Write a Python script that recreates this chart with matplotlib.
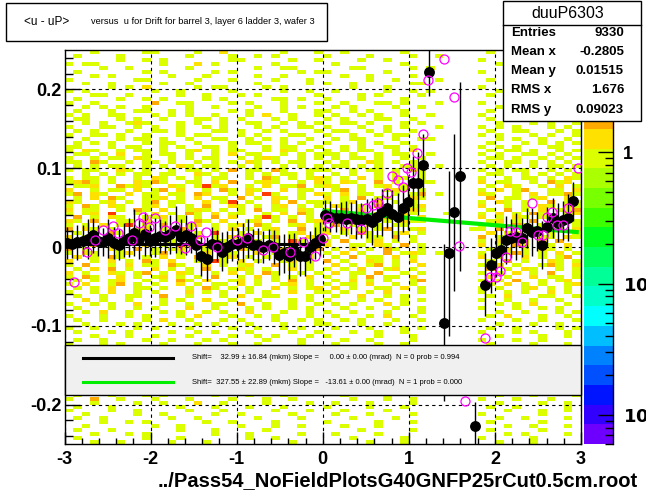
import numpy as np
import matplotlib
matplotlib.use('Agg')
import matplotlib.pyplot as plt
from matplotlib.colors import ListedColormap, BoundaryNorm
from matplotlib.patches import Rectangle
from matplotlib.lines import Line2D
from matplotlib.ticker import MultipleLocator, FixedLocator, LogLocator, NullFormatter

plt.rcParams['font.family'] = ['Liberation Sans', 'DejaVu Sans']
plt.rcParams['axes.unicode_minus'] = False

W, H = 646, 494

# ---- 2D histogram, rows from top (y=0.25) to bottom (y=-0.25)
# each row: x in [-3,0] (30 bins), [0,1.2] (12), [1.2,1.8] (6), [1.8,3] (12)
# '.' empty, 1 yellow-green, 2 yellow, 3 orange, 4 red
hist_rows = [
    ("...1.....11....1..2......1...1", "..1......1..", "......", ".1....1.1..."),
    (".1....1.......1....1..1.1.....", "1....1....1.", ".1....", "...1.....1.."),
    ("......1..1.1.......11.....1..1", "....1..1....", "......", "1.....1....1"),
    ("1.11.......1...2.1......1.....", ".1.......1..", "......", "..1..1......"),
    ("....1..1......1.......1..11...", "...11.....1.", "1.....", ".....1..1..."),
    (".1.......1.1.....1.1.......1.1", "1......1....", "......", "1..1.......1"),
    ("...1.1......1...1.....1..1....", "..1..1....1.", "......", "....1..1.1.."),
    ("1.......11.....1...1....1...1.", ".....1..1...", ".1....", ".1.......1.."),
    ("..1..1.....1..1.......1.....1.", "1..1......11", "......", "...1.1......"),
    (".....1.1.2.....1.11....1.1....", "...1...1....", "......", "1......1..1."),
    ("1.1.......1..1.....1.....1..1.", ".1.....1..1.", "1.....", "..1..1......"),
    ("...11..1.....1..1...1.1......1", "....1.1....1", "......", ".1......1..1"),
    (".1....1..1.1....1.1.....11.1..", "1...1....1..", "......", "...1.1..1..."),
    ("1..1......3..11....1.1...1...1", "..1...11.1..", ".1....", "1.....1...1."),
    ("..1.1.1..1....1..1....1..1.1..", ".1.1....1..1", "......", "..1..1....1."),
    (".1...1..11..1.1....1.1...1...1", "1..1.1...1..", "......", ".1..1...1..1"),
    ("1.1..11...1.1.1..1...1.2..1..1", ".1..1.1..1..", "1.....", "1..1...1.1.."),
    (".11...1.1..1...11.1.1...1.1...", "1.1...11..1.", "......", ".1..1.1...1."),
    ("..1.1..121...1.1..1..11..1.1.1", "..11.1...1.1", "......", "..1...1.1..1"),
    ("1...11..1.1..1..1.1...1.1..11.", "1...1..1.1..", ".1....", "1.1.1...1.1."),
    (".1.1...1..11.1...11.1..1.1...1", ".11..1.1..1.", "......", ".1..11...1.1"),
    ("1..11.1..1...1.11...1.1...11..", "1..1..1.11..", "......", "1.1...1.1..1"),
    ("..1...1.11.1..1..11..1.1.1..1.", ".1.11...1..1", "1.....", "..1.1..1..1."),
    (".1.1.1...1.11..1...1.11..1.1..", "1...1.1..1..", "......", ".1...1.1.1.1"),
    ("11...1.11..1.1..11.1...1.11..1", "..1.1..11.1.", "......", "1.1.1...11.."),
    ("1.21..1.11.1..12.1.11..1.21.1.", "1.1.11..1.2.", "......", ".1.11.1..1.1"),
    (".11.1.2..1.11.1..1.2.11..1.1.1", "11.1..1.11..", "1.....", "1.1..11.1.1."),
    ("1..1.11.21..1.1.11..1.121..1.1", ".1.11.1..1.1", "......", ".11.1..1.1.1"),
    ("11.31..1.11.1..1.1.1.21.1.11..", "1.1..21.1.1.", "......", "1..11.1.1.1."),
    (".1.1.11..1.1.21.11..1.1..1.1.1", ".11.1.1..11.", ".1....", ".1.1..1.11.1"),
    ("1.11..21.1..1.11.1.3.11.31..11", "1..1.11.1.21", "......", "1.1.11..1.1."),
    ("..1.1.1.11.11..21.1..1.1.11.1.", ".1.1..1.1..1", "......", ".11..1.1.1.1"),
    ("1.11.1..1.21.1.1.11..1.31.1.12", "1.1.2.1.11.1", "......", "1..1.11.1.21"),
    ("1231.1..2131..11.2.3..121..1.2", "1.21..3.1.21", "1.....", "2.11..1.312."),
    (".112..3121..21.1412..1.2.113.1", "21..1.12.11.", "......", ".1.21..1.2.1"),
    ("2..1.11.2.13.2..1.31.21..2.11.", ".13.1..121.1", "......", "1.2.13..11.2"),
    ("13.21..2.11.11.32..1.2.41..1.2", "1.2.11..1.13", ".1....", "21..1.2.1131"),
    (".1.2.31..112.1.2.11.3.1.21.1..", "2.1.3.11..21", "......", ".3.11.12..2."),
    ("21..12.1.13.11..2.14.1..2.3.11", "1.12..2.1.1.", "......", "1.21.1..3.11"),
    ("1.31.21..12.1.1.3..21.1.12.1.1", ".21.1.31..12", "......", "2..1.1.21.21"),
    ("2.11..1.31.2..121.1.1.3.11.21.", "1.3.2..1.121", "......", ".1.3.1.2.113"),
    ("1.12.4..1.2.1.31.2.11..1.2.31.", ".1.21.1..21.", "..1...", "1.2.1.31..12"),
    (".3.1.21..112.1.1.3.2..141.1.1.", "21..1.13.1.2", "......", "2.1.21.11.1."),
    ("21.3..11.2.1.1.31.2..12.1.3.12", "1.1.2..1.211", "......", ".12.1.3..121"),
    ("1.1.2.14.1.3..12.1.12.31..12.1", ".3.1.21.11..", "......", "1.1.31.1.2.1"),
    ("3.21.1..12.1.31..1.2.1.12..3.1", "1.2.1.13..12", ".....1", "1.3..121.1.2"),
    (".1.1.31.21..21.1.4..1.2.1.12.1", "2.1.31..12.1", "......", ".2.11.3.1..1"),
    ("2.13.1..12.1.1.3.1.21..13.1.21", ".1.2.11.3.1.", "......", "3.1.2..11.21"),
    ("1..2.1.21.3.1.2..11.2.1.1.41.2", "1.3..12.1.1.", "......", "1.21.1.2.3.."),
    (".1.3.11..2.1.41.2..13.1.2.1.1.", "2..11.21.3.1", "......", "2.1.31..1.2."),
    ("3.1..21.3.1.12..1.1.31.1.2..13", ".1.2.1.31..1", "......", ".1.2.1.21.1."),
    ("1.21..12..13.1..2.41..2.1.1.1.", "1.2.1..3.121", ".1....", "1..131.1.2.1"),
    (".2.1.31..1.2.1.3..12.1.1.3.12.", ".1.3.11.2.1.", "......", "2.1..2.1.13."),
    ("2..1.2.1.31.2..1.41.2.1..12.1.", "3.1..21.1.2.", "......", ".1.3.1..21.1"),
    ("1.3..1.2.11.31..2.1.12..3.1.1.", ".2.1.13.1..2", "......", "1.2.1..131.2"),
    (".1.2.3.1..2.1.1.3..121.1..2.1.", "1.1.2..12.1.", "......", ".3.1.21..1.1"),
    ("2.1..21.13.1.21..1.2.1.31..1.1", ".2.11.3..1.1", "......", "1.1.2.1.3..1"),
    ("1.31..2.1.12.1.1.3..1.2.1.1.2.", "1..1.3.11.2.", "......", ".2.1..2.11.1"),
    (".1.1.12..1.1.31.2..12.1.1.3.1.", ".1.2.1.1..13", "......", "1.1.3..1.12."),
    ("1.2..13.1.1..2.1.11.2.1..12.1.", "1.11.2..1.1.", "......", ".1.2.1.1..12"),
    (".1.1.2..11.1..1.31.1.1..2.1.12", ".2.1..11.2.1", "......", "1.1..12.1.1."),
    ("1..1.2..1.1...2.1.1..1.1..2..1", "1.1..1.2...1", "......", "1..1.1..2.1."),
    (".1..1..11..3..1...1.2..11...1.", ".1..2..1.1..", "......", ".1.2...11..1"),
    ("..2.1..1...1.1..2..1..1...1.1.", "1...1.1..1.1", "......", "1..1..1..1.."),
    ("1..1.1..2..1..1..11.3..1..1..1", ".1.1...2.1..", "......", "..1.1.2...1."),
    (".1...1..1.1...2..1...1.1..1.1.", "..1..1..1..1", "......", "1...1..1.1.."),
    ("..1.2..1...1.1..1.1..2...1..1.", "1..1...1...1", "......", "..1..1...1.1"),
    ("1...1..1.1...1.2...1..1.1...1.", ".1...1.2..1.", "......", ".1.2...1..1."),
    (".1..1....1.2..1...1.1...1..1.1", "..1.1...1..1", "......", "1...1..1...1"),
    ("..1...1.1...1..1.1...1...1...1", "1...1..1....", "......", "..1...1..1.."),
    ("1..1....1.1...1....1..1..1.1..", ".1...1...1.1", "......", ".1..1....1.1"),
    (".1...1.1....1..1.1...1....1..1", "...1..1..1..", "......", "1...1.1...1."),
    ("...1...1..1...1....1..1.1...1.", "1.....1...1.", "......", "..1....1..1."),
    (".1..1....1..1...1.1....1...1..", "..1..1....1.", "......", "1...1..1...."),
    ("1...1.1....1...1...1..1....1..", ".1....1..1..", "......", ".1....1...1."),
    # rows 75-86 lie behind the fit legend box
    "", "", "", "", "", "", "", "", "", "", "", "",
    (".1...1...1.1.....1...1...1....", "..1....1....", "......", "..1...1....1"),
    ("1..3..1...1...1....1...1..1...", "...1...1..1.", "......", "1...1...1..."),
    ("...1....1..1...2..1....1....1.", ".1...1....1.", "......", "..1....1..1."),
    (".1...1.......1...1...1...1....", "1....1...1..", "......", ".1..1.....1."),
    ("1....1..1.....1...1.....1...1.", "..1....1....", "......", "...1...1..1."),
    ("..1.....1..1.....1..1.....1...", ".1...1....1.", "......", "1......1...."),
    (".1..1.......1..1......1....1..", "...1....1...", "......", "..1..1....1."),
    ("....1..1.1......1..1....1.....", "1.....1...1.", "......", ".1.....1...."),
    ("..1.......1..1......1...1..1..", "..1...1.....", "......", "...1..1...1."),
    (".1...1.......1...1.....1......", "....1.....1.", "......", ".1.....1...."),
    ("...1...1.1.......1...1.....1..", ".1....1.....", "......", "...1.1....1."),
    (".1.......1...1.......1..1.....", "...1.....1..", "......", "1.....1....."),
    ("...1..1.....1...1.........1...", ".....1...1..", "......", "..1...1....."),
]
level_value = {'1': 1.0, '2': 1.25, '3': 1.8, '4': 3.2}

# palette (bottom -> top) and z range of the log colour axis
pal_colors = ['#6E00FF', '#3200FF', '#0014FF', '#0050FF', '#0082FF',
              '#00BEFF', '#00FFFF', '#00FFC8', '#00FF96', '#00FF5A',
              '#00FF1E', '#3CFF00', '#78FF00', '#AAFF00', '#DCFF00',
              '#FFE100', '#FFAA00', '#FF7800', '#FF3C00', '#FF0000']
z_min, z_max = 0.006, 6.0

# ---- profile points (black, with errors) and second profile (magenta)
bx = [-2.97, -2.91, -2.85, -2.79, -2.73, -2.67, -2.61, -2.55, -2.49, -2.43,
      -2.37, -2.31, -2.25, -2.19, -2.13, -2.07, -2.01, -1.95, -1.89, -1.83,
      -1.77, -1.71, -1.65, -1.59, -1.53, -1.47, -1.41, -1.35, -1.29, -1.23,
      -1.17, -1.11, -1.05, -0.99, -0.93, -0.87, -0.81, -0.75, -0.69, -0.63,
      -0.57, -0.51, -0.45, -0.39, -0.33, -0.27, -0.21, -0.15, -0.09, -0.03,
      0.03, 0.09, 0.15, 0.21, 0.27, 0.33, 0.39, 0.45, 0.51, 0.57,
      0.63, 0.69, 0.75, 0.81, 0.87, 0.93, 0.99, 1.05, 1.11, 1.17,
      1.23, 1.41, 1.47, 1.53, 1.59, 1.77, 1.89, 1.95, 2.01, 2.07,
      2.13, 2.19, 2.25, 2.31, 2.37, 2.43, 2.49, 2.55, 2.61, 2.67,
      2.73, 2.79, 2.85, 2.91]
by = [0.005, 0.004, 0.006, 0.008, 0.010, 0.015, 0.008, 0.006, 0.011, 0.005,
      0.003, 0.009, 0.012, 0.018, 0.010, 0.017, 0.008, 0.012, 0.014, 0.013,
      0.016, 0.022, 0.013, 0.015, 0.012, 0.003, -0.012, -0.015, 0.004, 0.002,
      -0.006, 0.000, 0.004, 0.004, 0.006, 0.011, 0.003, 0.002, 0.000, 0.003,
      0.000, -0.010, -0.008, -0.012, -0.004, -0.012, -0.012, 0.000, 0.005, 0.010,
      0.040, 0.0385, 0.037, 0.037, 0.036, 0.037, 0.035, 0.034, 0.036, 0.032,
      0.038, 0.044, 0.049, 0.042, 0.038, 0.049, 0.057, 0.081, 0.081, 0.104,
      0.222, -0.096, -0.008, 0.044, 0.090, -0.227, -0.048, -0.023, -0.008, -0.004,
      0.009, 0.011, 0.013, 0.012, 0.024, 0.019, 0.020, 0.0025, 0.026, 0.037,
      0.031, 0.034, 0.037, 0.058]
bey = [0.020, 0.018, 0.022, 0.020, 0.025, 0.022, 0.020, 0.018, 0.025, 0.020,
       0.020, 0.022, 0.025, 0.030, 0.025, 0.028, 0.020, 0.025, 0.022, 0.020,
       0.025, 0.030, 0.022, 0.025, 0.020, 0.022, 0.025, 0.028, 0.022, 0.020,
       0.025, 0.020, 0.022, 0.020, 0.025, 0.025, 0.020, 0.022, 0.020, 0.020,
       0.022, 0.025, 0.025, 0.028, 0.022, 0.025, 0.025, 0.020, 0.020, 0.022,
       0.020, 0.020, 0.018, 0.020, 0.022, 0.020, 0.025, 0.022, 0.025, 0.030,
       0.025, 0.030, 0.025, 0.030, 0.030, 0.030, 0.035, 0.035, 0.040, 0.040,
       0.030, 0.100, 0.105, 0.100, 0.120, 0.030, 0.040, 0.035, 0.030, 0.030,
       0.030, 0.025, 0.030, 0.025, 0.025, 0.030, 0.025, 0.030, 0.025, 0.025,
       0.025, 0.025, 0.030, 0.025]

mx = [-2.89, -2.74, -2.65, -2.55, -2.44, -2.38, -2.22, -2.13, -2.09, -2.02,
      -1.95, -1.83, -1.72, -1.60, -1.53, -1.43, -1.36, -1.23, -1.00, -0.88,
      -0.69, -0.58, -0.38, -0.23, -0.09, 0.00, 0.05,
      0.07, 0.28, 0.44, 0.50, 0.58, 0.64, 0.75, 0.81, 0.87, 0.93,
      0.98, 1.03, 1.10, 1.16, 1.22, 1.41, 1.52, 1.58, 1.65, 1.885,
      1.94, 2.01, 2.06, 2.13, 2.18, 2.25, 2.31, 2.43, 2.50, 2.56,
      2.60, 2.66, 2.72, 2.79, 2.85, 2.97]
my = [-0.045, -0.006, 0.009, 0.022, 0.027, 0.018, 0.009, 0.030, 0.038, 0.025,
      0.037, 0.022, 0.027, -0.001, 0.027, 0.009, 0.019, 0.000, 0.009, 0.011,
      -0.004, 0.000, -0.006, 0.006, -0.011, 0.011, 0.037,
      0.031, 0.031, 0.023, 0.049, 0.053, 0.056, 0.068, 0.090, 0.085, 0.076,
      0.100, 0.095, 0.119, 0.143, 0.212, 0.239, 0.190, 0.001, -0.195, -0.115,
      -0.038, -0.038, -0.030, -0.013, 0.020, 0.019, 0.006, 0.056, 0.015, 0.015,
      0.038, 0.044, 0.028, 0.028, 0.049, 0.100]

# fit lines
fit1_x, fit1_y = [-3.0, 0.0], [0.0033, 0.0033]
fit2_x, fit2_y = [0.02, 2.95], [0.0457, 0.019]

fit_labels = [
    "Shift=    32.99 \u00b1 16.84 (mkm) Slope =     0.00 \u00b1 0.00 (mrad)  N = 0 prob = 0.994",
    "Shift=  327.55 \u00b1 22.89 (mkm) Slope =   -13.61 \u00b1 0.00 (mrad)  N = 1 prob = 0.000",
]

stat_names = ['Entries', 'Mean x', 'Mean y', 'RMS x', 'RMS y']
stat_values = ['9330', '-0.2805', '0.01515', '1.676', '0.09023']

x_ticks = [-3, -2, -1, 0, 1, 2, 3]
x_tick_labels = ['-3', '-2', '-1', '0', '1', '2', '3']
y_ticks = [-0.2, -0.1, 0.0, 0.1, 0.2]
y_tick_labels = ['-0.2', '-0.1', '0', '0.1', '0.2']


def fx(px):
    return px / W


def fy(py):
    return 1 - py / H


fig = plt.figure(figsize=(W / 100, H / 100), dpi=100)

# ---- main frame
ax = fig.add_axes([fx(64.5), fy(444), (581 - 64.5) / W, (444 - 50) / H])

Z = np.full((100, 60), np.nan)
for r, row in enumerate(hist_rows):
    if isinstance(row, tuple):
        widths = [30, 12, 6, 12]
        row = ''.join(seg.ljust(w, '.')[:w] for seg, w in zip(row, widths))
    row = row.ljust(60, '.')[:60]
    for c, ch in enumerate(row):
        if ch in level_value:
            Z[r, c] = level_value[ch]

bounds = np.logspace(np.log10(z_min), np.log10(z_max), 21)
cmap = ListedColormap(pal_colors)
norm = BoundaryNorm(bounds, cmap.N)
xe = np.linspace(-3, 3, 61)
ye = np.linspace(0.25, -0.25, 101)
ax.pcolormesh(xe, ye, np.ma.masked_invalid(Z), cmap=cmap, norm=norm, zorder=1)

ax.set_xlim(-3, 3)
ax.set_ylim(-0.25, 0.25)
ax.set_xticks(x_ticks)
ax.set_xticklabels(x_tick_labels)
ax.set_yticks(y_ticks)
ax.set_yticklabels(y_tick_labels)
ax.xaxis.set_minor_locator(MultipleLocator(0.2))
ax.yaxis.set_minor_locator(MultipleLocator(0.02))
ax.tick_params(which='both', direction='in', top=False, right=False, width=1)
ax.tick_params(axis='x', which='major', length=8.5, pad=5, labelsize=13)
ax.tick_params(axis='x', which='minor', length=4.5)
ax.tick_params(axis='y', which='major', length=10.5, pad=2, labelsize=13)
ax.tick_params(axis='y', which='minor', length=6)
for lab in ax.get_xticklabels() + ax.get_yticklabels():
    lab.set_fontweight('bold')
for sp in ax.spines.values():
    sp.set_linewidth(1)
ax.grid(True, which='major', color='k', linestyle=(0, (3, 3)), linewidth=0.8)

ax.plot(fit1_x, fit1_y, color='k', lw=2.2, zorder=3)
ax.plot(fit2_x, fit2_y, color='#00EE00', lw=3, zorder=3)
ax.errorbar(bx, by, yerr=bey, fmt='o', color='k', ms=6.8, elinewidth=1,
            capsize=0, zorder=4)
ax.plot(mx, my, 'o', mfc='none', mec='#FF00FF', ms=6.5, mew=0.9, zorder=5)

# ---- palette axis
cax = fig.add_axes([fx(584), fy(444), (613 - 584) / W, (444 - 50) / H])
cax.set_yscale('log')
cax.set_ylim(z_min, z_max)
cax.set_xlim(0, 1)
for k in range(20):
    cax.axhspan(bounds[k], bounds[k + 1], color=pal_colors[k], lw=0)
cax.set_xticks([])
for side in ['left', 'top', 'bottom']:
    cax.spines[side].set_visible(False)
cax.spines['right'].set_linewidth(1)
cax.yaxis.tick_right()
cax.yaxis.set_major_locator(FixedLocator([0.01, 0.1, 1.0]))
cax.set_yticklabels([r'$\mathbf{10^{-2}}$', r'$\mathbf{10^{-1}}$', '1'])
cax.yaxis.set_minor_locator(LogLocator(base=10, subs=np.arange(2, 10)))
cax.yaxis.set_minor_formatter(NullFormatter())
cax.tick_params(which='both', direction='in', right=True, left=False, width=1)
cax.tick_params(which='major', length=10.5, pad=7, labelsize=13)
cax.tick_params(which='minor', length=5.5)
for lab in cax.get_yticklabels():
    lab.set_fontweight('bold')

# ---- title box
fig.add_artist(Rectangle((fx(6), fy(41)), (327 - 6) / W, (41 - 3) / H,
                         transform=fig.transFigure, fc='white', ec='k', lw=1, zorder=5))
fig.text(fx(24), fy(22), '<u - uP>', fontsize=8.5, va='center', ha='left', zorder=6)
fig.text(fx(91), fy(22), 'versus  u for Drift for barrel 3, layer 6 ladder 3, wafer 3',
         fontsize=6.7, va='center', ha='left', zorder=6)

# ---- stats box
fig.add_artist(Rectangle((fx(503), fy(121)), (641 - 503) / W, (121 - 1) / H,
                         transform=fig.transFigure, fc='white', ec='k', lw=1, zorder=5))
fig.add_artist(Line2D([fx(503), fx(641)], [fy(25), fy(25)], transform=fig.transFigure,
                      color='k', lw=1, zorder=6))
fig.text(fx(568), fy(13), 'duuP6303', fontsize=11.5, ha='center', va='center', zorder=6)
stat_py = [33, 52, 71, 90, 110]
for name, val, py in zip(stat_names, stat_values, stat_py):
    fig.text(fx(511), fy(py), name, fontsize=9.5, fontweight='bold', ha='left',
             va='center', zorder=6)
    fig.text(fx(624), fy(py), val, fontsize=9.5, fontweight='bold', ha='right',
             va='center', zorder=6)

# ---- fit legend
fig.add_artist(Rectangle((fx(64.5), fy(395)), (581 - 64.5) / W, (395 - 345) / H,
                         transform=fig.transFigure, fc='#F0F0F0', ec='k', lw=1, zorder=5))
for py, col, lab in zip([357.7, 382], ['k', '#00EE00'], fit_labels):
    fig.add_artist(Line2D([fx(83), fx(173)], [fy(py), fy(py)], transform=fig.transFigure,
                          color=col, lw=2.2, zorder=6))
    fig.text(fx(192), fy(py), lab, fontsize=5.5, ha='left', va='center', zorder=6)

# ---- x axis title
fig.text(fx(638), fy(481), '../Pass54_NoFieldPlotsG40GNFP25rCut0.5cm.root',
         fontsize=14.5, fontweight='bold', ha='right', va='center')

fig.savefig('out.png', dpi=100, facecolor='white')
